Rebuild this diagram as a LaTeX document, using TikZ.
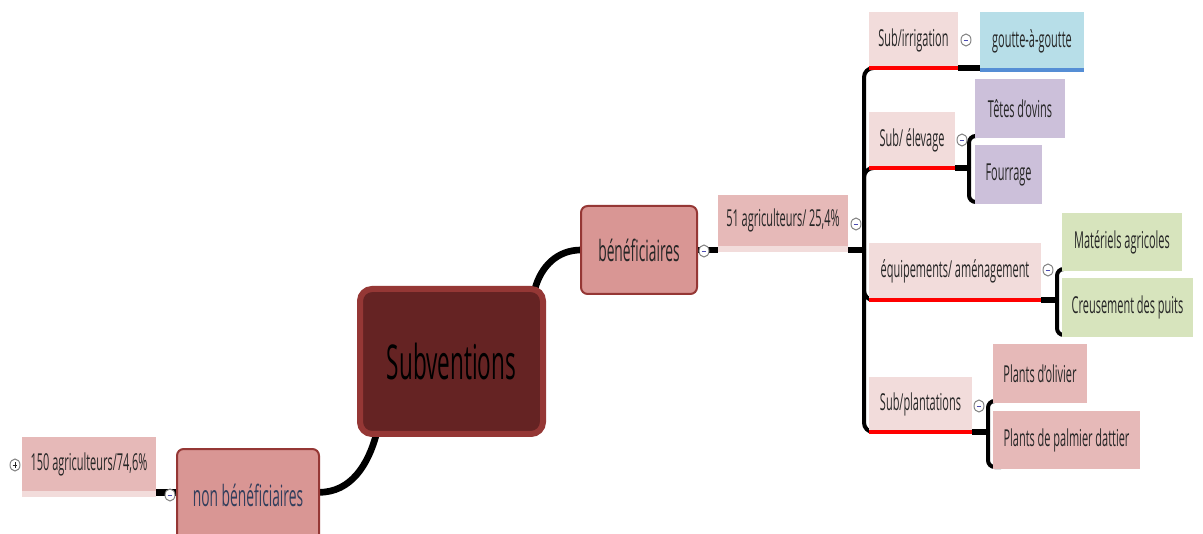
\documentclass[tikz,border=0pt]{standalone}
\usepackage{fontspec}
\setmainfont[FakeStretch=0.47]{Open Sans}
\usetikzlibrary{shapes,positioning,calc}
\pgfdeclarelayer{paper}
\pgfdeclarelayer{links}
\pgfsetlayers{paper,links,main}
\definecolor{subcore}{RGB}{101,35,35}
\definecolor{subrim}{RGB}{149,55,53}
\definecolor{subtopic}{RGB}{217,150,148}
\definecolor{subcount}{RGB}{230,185,184}
\definecolor{subpale}{RGB}{242,220,219}
\definecolor{subblue}{RGB}{183,222,232}
\definecolor{subblueline}{RGB}{85,142,213}
\definecolor{sublilac}{RGB}{204,192,218}
\definecolor{subgreen}{RGB}{215,228,189}
\definecolor{subink}{RGB}{38,38,38}
\definecolor{subslate}{RGB}{50,62,92}
\tikzset{
	wh/.style 2 args={minimum width=#1*0.75pt, minimum height=#2*0.75pt},
	core/.style={draw=subrim, line width=4.5pt, rounded corners=9pt, fill=subcore, text=black, font=\fontsize{36}{40}\selectfont},
	topic/.style={draw=subrim, line width=1.5pt, rounded corners=5pt, fill=subtopic, font=\fontsize{22}{24}\selectfont},
	count/.style={fill=subcount, font=\fontsize{17.5}{20}\selectfont},
	cat/.style={fill=subpale, font=\fontsize{17.5}{20}\selectfont},
	leaf/.style={font=\fontsize{17.5}{20}\selectfont},
	toggle/.style={ellipse, draw=gray, fill=white, line width=0.7pt, minimum width=7.5pt, minimum height=9pt,
		path picture={\draw[gray!60!blue, line width=0.6pt] ([xshift=2pt]path picture bounding box.west) -- ([xshift=-2pt]path picture bounding box.east);}},
	plus/.style={toggle, path picture={\draw[subink, line width=0.6pt] ([xshift=2pt]path picture bounding box.west) -- ([xshift=-2pt]path picture bounding box.east) ([yshift=2.2pt]path picture bounding box.south) -- ([yshift=-2.2pt]path picture bounding box.north);}},
	link/.style={draw=black, line width=5pt},
	branch/.style={draw=black, line width=3pt, rounded corners=7pt},
	redline/.style={draw=red, line width=3pt},
	paleline/.style={draw=subpale, line width=4.5pt}
}

\begin{document}
\begin{tikzpicture}[x=0.75pt, y=-0.75pt, every node/.style={inner sep=0pt, outer sep=0pt, text=subink}]
	\useasboundingbox (0,0) rectangle (1203,534);
	\clip (0,0) rectangle (1203,534);
	\begin{pgfonlayer}{paper}
		\fill[white] (0,0) rectangle (1203,534);
	\end{pgfonlayer}

	% centre and the two main topics
	\node[core, wh={183}{145}] (core) at (451.5,361.5) {Subventions};
	\node[topic, wh={116}{88}] (benef) at (639,250) {bénéficiaires};
	\node[topic, wh={142}{92}, text=subslate] (nonb) at (248,495) {non bénéficiaires};

	\node[count, wh={134}{54}] (c150) at (89,464) {150 agriculteurs/74,6\%};
	\node[count, wh={130}{51}] (c51) at (783,220.5) {51 agriculteurs/ 25,4\%};
	\draw[paleline] ([yshift=-2.25pt]c150.south west) -- ([yshift=-2.25pt]c150.south east);
	\draw[paleline] ([yshift=-2.25pt]c51.south west) -- ([yshift=-2.25pt]c51.south east);

	% kinds of subsidy
	\node[cat, wh={89}{56}] (irr) at (913.5,40) {Sub/irrigation};
	\node[leaf, fill=subblue, wh={104}{58}] (drip) at (1032,41) {goutte-à-goutte};
	\node[cat, wh={86}{56}] (elev) at (912,140) {Sub/ élevage};
	\node[leaf, fill=sublilac, wh={90}{59}] (ovins) at (1020,108.5) {Têtes d'ovins};
	\node[leaf, fill=sublilac, wh={67}{59}] (fourr) at (1008.5,174.5) {Fourrage};
	\node[cat, wh={172}{57}] (equip) at (955,271.5) {équipements/ aménagement};
	\node[leaf, fill=subgreen, wh={120}{58}] (mat) at (1122,242) {Matériels agricoles};
	\node[leaf, fill=subgreen, wh={131}{59}] (puits) at (1127.5,307.5) {Creusement des puits};
	\node[cat, wh={103}{55}] (plant) at (920.5,404.5) {Sub/plantations};
	\node[leaf, fill=subcount, wh={94}{59}] (oliv) at (1040,373.5) {Plants d'olivier};
	\node[leaf, fill=subcount, wh={147}{58}] (palm) at (1066.5,440) {Plants de palmier dattier};

	\foreach \n in {irr,elev,equip,plant}
		\draw[redline] (\n.south west) -- (\n.south east);
	\draw[subblueline, line width=3pt] (drip.south west) -- (drip.south east);

	\coordinate (hub) at (864,250);
	\coordinate (elevhub) at (969,168);
	\coordinate (equiphub) at (1057,300);
	\coordinate (planthub) at (988,432);

	% connectors go behind the boxes
	\begin{pgfonlayer}{links}
		\draw[link] (core.41) to[out=75, in=180] (benef.west);
		\draw[link] (core.224) to[out=255, in=0] ([yshift=2pt]nonb.east);
		\draw[link] (benef.east) -- (benef.east -| c51.west);
		\draw[link] ([yshift=2pt]nonb.west) -- ([yshift=2pt]nonb.west -| c150.east);
		\draw[link] (hub -| c51.east) -- (hub);
		\foreach \n in {irr,elev,equip,plant}
			\draw[branch] (hub) |- ([xshift=12pt]\n.south west);

		\draw[link] (irr.south east) -- (irr.south east -| drip.west);
		\draw[link] (elev.south east) -- (elevhub);
		\draw[link] (equip.south east) -- (equiphub);
		\draw[link] (plant.south east) -- (planthub);
		\foreach \h/\a/\b in {elevhub/ovins/fourr, equiphub/mat/puits, planthub/oliv/palm} {
			\draw[branch, rounded corners=5pt] (\h) |- ([xshift=6pt, yshift=1.5pt]\a.south west);
			\draw[branch, rounded corners=5pt] (\h) |- ([xshift=6pt, yshift=1.5pt]\b.south west);
		}
	\end{pgfonlayer}

	% collapse buttons
	\node[plus] (t150) at (15,465) {};
	\node[toggle] (tnonb) at (170,495) {};
	\node[toggle] (tbenef) at (704,251) {};
	\node[toggle] (t51) at (856,224) {};
	\node[toggle] (tirr) at (966,40) {};
	\node[toggle] (telev) at (962,140) {};
	\node[toggle] (tequip) at (1048,270) {};
	\node[toggle] (tplant) at (979,406) {};
\end{tikzpicture}
\end{document}
